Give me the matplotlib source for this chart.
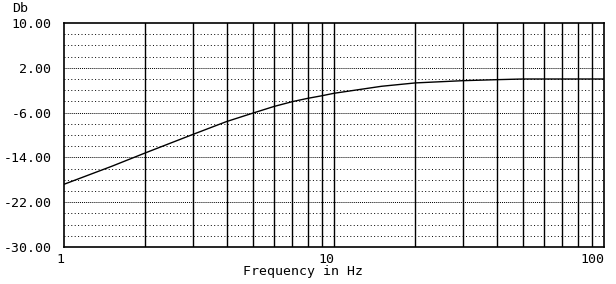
import matplotlib
matplotlib.use("Agg")
import matplotlib.pyplot as plt
import numpy as np

# response
freq_hz = [1, 1.5, 2, 3, 4, 5, 6, 7, 8, 9, 10, 15, 20, 30, 40, 50, 70, 100]
gain_db = [-18.8, -15.6, -13.2, -9.9, -7.6, -6.1, -4.9, -4.05, -3.45, -3.0,
           -2.55, -1.3, -0.7, -0.3, -0.12, 0.0, 0.0, 0.0]

y_ticks = [10, 2, -6, -14, -22, -30]
y_tick_labels = ["10.00", "2.00", "-6.00", "-14.00", "-22.00", "-30.00"]
x_ticks = [1, 10, 100]
x_tick_labels = ["1", "10", "100"]

plt.rcParams["font.family"] = ["DejaVu Sans Mono"]

fig = plt.figure(figsize=(6.16, 2.84), dpi=100)
ax = fig.add_axes([64 / 616, 37 / 284, 540 / 616, 224 / 284])

ax.set_xscale("log")
ax.set_xlim(1, 100)
ax.set_ylim(-30, 10)

# dotted horizontal grid, denser dots on the labelled levels
for y in np.arange(-28, 10, 2):
    if y in y_ticks:
        ax.axhline(y, color="black", lw=0.7, ls=(0, (1, 1)), zorder=1)
    else:
        ax.axhline(y, color="black", lw=0.7, ls=(0, (1, 2.5)), zorder=1)

# solid vertical grid at each decade step
for decade in [1, 10]:
    for m in range(2, 11):
        f = decade * m
        if f < 100:
            ax.axvline(f, color="black", lw=1.0, zorder=2)

ax.plot(freq_hz, gain_db, color="black", lw=1.0, zorder=3)

for s in ax.spines.values():
    s.set_linewidth(1.2)

ax.set_yticks(y_ticks)
ax.set_yticklabels(y_tick_labels)
ax.set_xticks(x_ticks)
ax.set_xticklabels(x_tick_labels, ha="right")
ax.minorticks_off()
ax.tick_params(axis="both", length=0, labelsize=9.5)
ax.tick_params(axis="y", pad=9)
ax.tick_params(axis="x", pad=4)

ax.set_xlabel("Frequency in Hz", fontsize=9.5)
ax.xaxis.set_label_coords((303 - 64) / 540, (247 - 272) / 224)
ax.xaxis.label.set_va("center")
fig.text(12 / 616, 1 - 9 / 284, "Db", fontsize=9.5, va="center", ha="left")

fig.savefig("out.png", dpi=100)
